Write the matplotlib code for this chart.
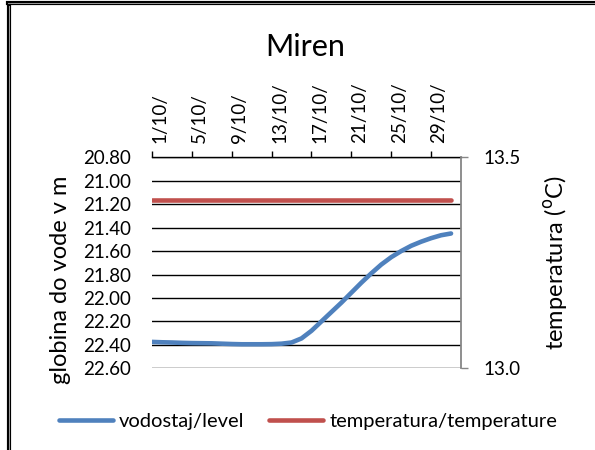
import matplotlib
matplotlib.use("Agg")
import matplotlib.pyplot as plt
import matplotlib.transforms as mtransforms
from matplotlib.lines import Line2D
from matplotlib.ticker import FormatStrFormatter

plt.rcParams["font.family"] = ["Lato", "DejaVu Sans"]

# dnevi v oktobru (1..31)
days = list(range(1, 32))
# globina do vode v m
level = [22.375, 22.378, 22.380, 22.383, 22.385, 22.386, 22.387, 22.390, 22.393, 22.395,
         22.395, 22.395, 22.394, 22.390, 22.380, 22.345, 22.280, 22.200, 22.120, 22.040,
         21.955, 21.870, 21.790, 21.715, 21.652, 21.600, 21.555, 21.520, 21.490, 21.465,
         21.450]
# temperatura (°C)
temp = [13.40] * 31
tick_days = [1, 5, 9, 13, 17, 21, 25, 29]
tick_labels = ["1/10/", "5/10/", "9/10/", "13/10/", "17/10/", "21/10/", "25/10/", "29/10/"]
level_ticks = [20.8, 21.0, 21.2, 21.4, 21.6, 21.8, 22.0, 22.2, 22.4, 22.6]
temp_ticks = [13.0, 13.5]

BLUE = "#4F81BD"
RED = "#C0504D"
GRAY = "#868686"
FS = 13.5

fig = plt.figure(figsize=(5.95, 4.5), dpi=100)
ax = fig.add_axes([152 / 595, 1 - 368.3 / 450, (461 - 152) / 595, (368.3 - 157.3) / 450])
ax2 = ax.twinx()

ax.plot(days, level, color=BLUE, lw=3.3, solid_capstyle="round", solid_joinstyle="round", zorder=3)
ax2.plot(days, temp, color=RED, lw=3.3, solid_capstyle="round", zorder=3)

ax.set_xlim(1, 32)
ax.set_ylim(22.6, 20.8)
ax.set_yticks(level_ticks)
ax.yaxis.set_major_formatter(FormatStrFormatter("%.2f"))
ax.yaxis.grid(True, color="black", lw=1.0)
ax.set_axisbelow(True)
ax.tick_params(axis="y", length=0, pad=15, labelsize=FS)

ax.xaxis.tick_top()
ax.set_xticks(tick_days)
ax.set_xticklabels(tick_labels, rotation=90, fontsize=FS, va="bottom")
ax.tick_params(axis="x", direction="out", length=4.5, width=1, pad=6)
off = mtransforms.ScaledTranslation(8 / 100, 0, fig.dpi_scale_trans)
for lbl in ax.get_xticklabels():
    lbl.set_transform(lbl.get_transform() + off)

for s in ["left", "bottom", "right"]:
    ax.spines[s].set_visible(False)
ax.spines["top"].set_linewidth(1.0)
ax.spines["top"].set_color("black")

ax2.set_ylim(13.0, 13.5)
ax2.set_yticks(temp_ticks)
ax2.yaxis.set_major_formatter(FormatStrFormatter("%.1f"))
ax2.tick_params(axis="y", direction="out", length=5, width=1, color=GRAY, pad=11, labelsize=FS)
for s in ["left", "bottom", "top"]:
    ax2.spines[s].set_visible(False)
ax2.spines["right"].set_color(GRAY)
ax2.spines["right"].set_linewidth(1.3)

ax.set_ylabel("globina do vode v m", fontsize=17)
ax.yaxis.set_label_coords(-0.262, 0.42)
ax2.set_ylabel(r"temperatura ($^{\mathrm{o}}$C)", fontsize=17)
ax2.yaxis.set_label_coords(1.262, 0.5)

fig.text(305 / 595, 1 - 47 / 450, "Miren", ha="center", va="center", fontsize=22)

handles = [Line2D([], [], color=BLUE, lw=3.3, solid_capstyle="round"),
           Line2D([], [], color=RED, lw=3.3, solid_capstyle="round")]
fig.legend(handles, ["vodostaj/level", "temperatura/temperature"], loc="center",
           bbox_to_anchor=(308 / 595, 1 - 421 / 450), ncol=2, frameon=False, fontsize=14.5,
           handlelength=2.7, handletextpad=0.3, columnspacing=1.2)

# okvir grafikona
fig.add_artist(Line2D([8 / 595, 1], [1 - 3 / 450, 1 - 3 / 450], color="black", lw=3.0))
fig.add_artist(Line2D([8 / 595, 1], [1 - 3 / 450, 1 - 3 / 450], color="#9a9a9a", lw=0.7))
fig.add_artist(Line2D([9 / 595, 9 / 595], [0, 1 - 6 / 450], color="black", lw=3.0))
fig.add_artist(Line2D([9 / 595, 9 / 595], [0, 1 - 6 / 450], color="#9a9a9a", lw=0.7))

fig.savefig("out.png", dpi=100)
